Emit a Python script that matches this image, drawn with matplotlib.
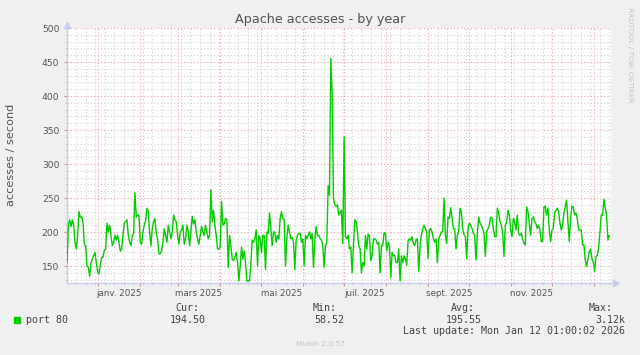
import matplotlib
matplotlib.use('Agg')
import matplotlib.pyplot as plt
import matplotlib.dates as mdates
from matplotlib.ticker import NullFormatter
from matplotlib.patches import Rectangle
import numpy as np
import pandas as pd

# daily averages, accesses / second
accesses = [
    155, 210, 218, 208, 218, 210, 185, 175, 195, 230,
    222, 222, 215, 182, 180, 150, 148, 135, 155, 160, 165,
    170, 155, 142, 138, 150, 163, 163, 173, 175, 213, 200,
    210, 195, 180, 185, 195, 188, 195, 185, 172, 175,
    195, 213, 215, 218, 195, 185, 180, 195, 198, 258,
    222, 225, 225, 185, 182, 200, 210, 217, 235, 230,
    200, 180, 205, 215, 220, 198, 190, 168, 168, 172,
    185, 205, 195, 185, 210, 200, 190, 200, 225, 218,
    215, 195, 182, 200, 203, 210, 182, 190, 210, 200,
    180, 200, 223, 212, 218, 200, 190, 182, 195, 208,
    200, 195, 210, 200, 190, 195, 262, 215, 232, 210,
    195, 175, 175, 178, 245, 210, 212, 220, 218, 148,
    195, 180, 160, 158, 163, 170, 155, 128, 150, 178,
    160, 172, 155, 128, 128, 128, 153, 188, 185, 190,
    203, 150, 195, 190, 170, 195, 195, 145, 200, 198,
    228, 205, 180, 200, 200, 185, 195, 190, 220, 230,
    220, 218, 150, 190, 210, 200, 190, 192, 185, 145,
    188, 195, 198, 198, 185, 190, 150, 195, 190, 195,
    200, 190, 198, 148, 188, 208, 195, 195, 190,
    # july spike
    188, 180, 148, 180, 185, 268, 254, 455, 404, 250,
    240, 238, 240, 225, 228, 232, 183, 340, 195, 190,
    195, 175, 178, 140, 180, 218, 215, 200, 180, 175,
    140, 155, 150, 195, 175, 197, 195, 158, 165, 190,
    190, 188, 182,
    185, 140, 180, 180, 199, 198, 172, 185, 180, 133,
    170, 165, 166, 155, 155, 175, 128, 165, 155, 165,
    160, 151, 187, 190, 188, 193, 183, 180, 188, 190,
    142, 178, 196, 205, 210, 205, 200, 161, 203, 205,
    200, 190, 185, 190, 155, 190, 195, 200, 200, 250,
    195, 183, 222, 220, 236, 220, 205, 205, 175,
    195, 200, 235, 230, 205, 196, 193, 161, 205, 213,
    210, 205, 198, 195, 159, 198, 222, 213, 210, 205,
    198, 164, 200, 205, 210, 222, 220, 205, 193, 193,
    235, 228, 215, 210, 198, 164, 210, 215, 232, 225,
    203, 193, 220, 215, 203, 225, 198, 195, 198, 190,
    183, 181, 237, 230, 213, 195, 220,
    222, 215, 212, 205, 210, 203, 186, 186, 237, 238,
    225, 235, 203, 186, 203, 205, 228, 232, 235, 230,
    213, 203, 210, 228, 237, 247, 215, 186, 220, 238,
    237, 225, 228, 220, 203, 203, 203, 181, 181, 159,
    149, 160, 171, 175, 161, 156, 142, 163, 166, 175,
    200, 225, 225, 248, 235, 225, 188, 195,
]
first_day = '2024-12-09 04:00'
last_day = '2026-01-12 01:00'

y_ticks = [150, 200, 250, 300, 350, 400, 450, 500]
month_labels = ['janv. 2025', 'mars 2025', 'mai 2025', 'juil. 2025', 'sept. 2025', 'nov. 2025']
month_label_days = ['2025-01-16', '2025-03-16', '2025-05-16', '2025-07-16', '2025-09-16', '2025-11-16']

legend_heads = ['Cur:', 'Min:', 'Avg:', 'Max:']
legend_vals = ['194.50', '58.52', '195.55', '3.12k']
last_update = 'Last update: Mon Jan 12 01:00:02 2026'

W, H = 640, 355


def px(x, y):
    return x / W, 1 - y / H


times = pd.date_range(first_day, last_day, periods=len(accesses))

fig = plt.figure(figsize=(6.4, 3.55), dpi=100, facecolor='#F0F0F0')
ax = fig.add_axes([67 / W, 1 - 283 / H, 544 / W, 255 / H])
ax.set_facecolor('white')

ax.plot(times, accesses, color='#00CC00', lw=1.0, zorder=3)

ax.set_xlim(pd.Timestamp('2024-12-09 04:00'), pd.Timestamp('2026-01-13 08:00'))
ax.set_ylim(125, 500)

ax.xaxis.set_major_locator(mdates.MonthLocator())
ax.xaxis.set_minor_locator(mdates.WeekdayLocator(byweekday=mdates.MO))
ax.xaxis.set_major_formatter(NullFormatter())
ax.set_yticks(y_ticks)
ax.set_yticks(np.arange(130, 500, 10), minor=True)

ax.set_axisbelow(True)
ax.grid(which='minor', color='#D2D2D2', linestyle=(0, (1, 2)), lw=0.8)
ax.grid(which='major', color='#EBA5A5', linestyle=(0, (1, 2)), lw=0.8)

ax.tick_params(which='major', length=2, width=0.8, color='#E08888',
               labelsize=6.6, labelcolor='#555555', pad=3.5)
ax.tick_params(which='minor', length=1.5, width=0.6, color='#C8C8C8')

for s in ['top', 'right']:
    ax.spines[s].set_visible(False)
for s in ['left', 'bottom']:
    ax.spines[s].set_color('#C8CCF2')
    ax.spines[s].set_linewidth(1.0)

# axis arrows
ax.plot([0], [1.012], marker='^', ms=4, color='#C8CCF2', transform=ax.transAxes, clip_on=False)
ax.plot([1.01], [0], marker='>', ms=4, color='#C8CCF2', transform=ax.transAxes, clip_on=False)

for lab, d in zip(month_labels, month_label_days):
    ax.text(pd.Timestamp(d), -11 / 255, lab, transform=ax.get_xaxis_transform(),
            ha='center', va='center', fontsize=6.3, color='#555555')

fig.text(*px(320, 19), 'Apache accesses - by year', ha='center', va='center',
         fontsize=9.2, color='#555555')
fig.text(*px(11, 155), 'accesses / second', rotation=90, ha='center', va='center',
         fontsize=8.1, color='#555555')
fig.text(*px(630, 55), 'RRDTOOL / TOBI OETIKER', rotation=270, ha='center', va='center',
         fontsize=5.4, color='#C4C4C4')

# legend
mono = dict(family='DejaVu Sans Mono', fontsize=7.2, color='#444444')
fig.add_artist(Rectangle(px(14, 323), 6 / W, 6 / H, transform=fig.transFigure,
                         color='#00CC00'))
fig.text(*px(26, 320), 'port 80', ha='left', va='center', **mono)
head_right = [199, 337, 475, 613]
val_right = [206, 344, 482, 625]
for h, v, hx, vx in zip(legend_heads, legend_vals, head_right, val_right):
    fig.text(*px(hx, 308), h, ha='right', va='center', **mono)
    fig.text(*px(vx, 320), v, ha='right', va='center', **mono)
fig.text(*px(625, 331), last_update, ha='right', va='center', **mono)
fig.text(*px(320, 344), 'Munin 2.0.57', ha='center', va='center',
         fontsize=5.4, color='#C4C4C4')

fig.savefig('out.png', dpi=100, facecolor=fig.get_facecolor())
